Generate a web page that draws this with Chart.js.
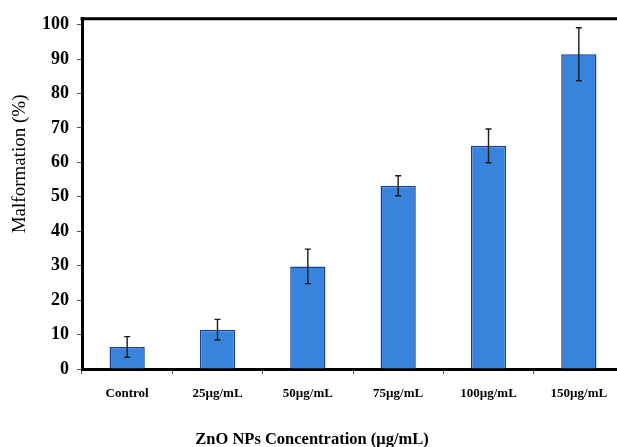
<!DOCTYPE html>
<html>
<head>
<meta charset="utf-8">
<script src="https://cdn.jsdelivr.net/npm/chart.js@4"></script>
<style>
html,body{margin:0;padding:0;background:#fff;overflow:hidden;width:617px;height:447px;}
canvas{display:block;}
</style>
</head>
<body>
<canvas id="c" width="625" height="447" style="width:625px;height:447px"></canvas>
<script>
const categories = ["Control", "25µg/mL", "50µg/mL", "75µg/mL", "100µg/mL", "150µg/mL"];
const malformation = [6.4, 11.4, 29.8, 53.2, 64.8, 91.4];
const errors = [3.0, 3.0, 5.0, 2.9, 4.9, 7.7];
const yTicks = [0, 10, 20, 30, 40, 50, 60, 70, 80, 90, 100];
const yTitle = "Malformation (%)";
const xTitle = "ZnO NPs Concentration (μg/mL)";

const FONT = "'Liberation Serif', 'Times New Roman', serif";

const errorBars = {
  id: 'errorBars',
  afterDatasetsDraw(chart) {
    const ctx = chart.ctx;
    const meta = chart.getDatasetMeta(0);
    const ys = chart.scales.y;
    ctx.save();
    ctx.strokeStyle = '#1a1a1a';
    ctx.lineWidth = 1.4;
    meta.data.forEach((bar, i) => {
      const x = bar.x;
      const t = ys.getPixelForValue(malformation[i] + errors[i]);
      const b = ys.getPixelForValue(malformation[i] - errors[i]);
      ctx.beginPath();
      ctx.moveTo(x, t); ctx.lineTo(x, b);
      ctx.moveTo(x - 3, t); ctx.lineTo(x + 3, t);
      ctx.moveTo(x - 3, b); ctx.lineTo(x + 3, b);
      ctx.stroke();
    });
    ctx.restore();
  }
};

const frameAndTitle = {
  id: 'frameAndTitle',
  afterDraw(chart) {
    const a = chart.chartArea;
    const ctx = chart.ctx;
    ctx.save();
    ctx.strokeStyle = '#000';
    ctx.lineWidth = 3;
    ctx.beginPath();
    ctx.moveTo(a.left - 1.5, a.top);
    ctx.lineTo(a.right + 10, a.top);
    ctx.stroke();
    // y axis title
    ctx.translate(20, (a.top + a.bottom) / 2 - 30);
    ctx.rotate(-Math.PI / 2);
    ctx.fillStyle = '#000';
    ctx.font = "19px " + FONT;
    ctx.textAlign = 'center';
    ctx.textBaseline = 'middle';
    ctx.fillText(yTitle, 0, 0);
    ctx.restore();
  }
};

new Chart(document.getElementById('c'), {
  type: 'bar',
  data: {
    labels: categories,
    datasets: [{
      data: malformation,
      backgroundColor: '#3884dc',
      borderColor: '#1c3c96',
      borderWidth: 1.5,
      barPercentage: 0.39,
      categoryPercentage: 1.0
    }]
  },
  options: {
    responsive: false,
    animation: false,
    layout: { padding: { top: 14, left: 0, right: 1, bottom: 0 } },
    plugins: {
      legend: { display: false },
      tooltip: { enabled: false },
      title: {
        display: true,
        position: 'bottom',
        text: xTitle,
        color: '#000',
        font: { family: FONT, size: 16.5, weight: 'bold', lineHeight: 1.2 },
        padding: { top: 0, bottom: -3 }
      }
    },
    scales: {
      x: {
        z: 1,
        afterFit: s => { s.height = 61.2; },
        grid: { drawOnChartArea: false, drawTicks: true, tickLength: 5, tickColor: '#555', offset: true },
        border: { display: true, color: '#000', width: 3 },
        ticks: { color: '#000', font: { family: FONT, size: 13, weight: 'bold' }, padding: 12, maxRotation: 0, autoSkip: false }
      },
      y: {
        z: 1,
        min: 0,
        max: 101.7,
        afterFit: s => { s.width = 82; },
        afterBuildTicks: s => { s.ticks = yTicks.map(v => ({ value: v })); },
        grid: { drawOnChartArea: false, drawTicks: true, tickLength: 5, tickColor: '#555' },
        border: { display: true, color: '#000', width: 3 },
        ticks: { color: '#000', font: { family: FONT, size: 18, weight: 'bold' }, padding: 8 },
        title: { display: false }
      }
    }
  },
  plugins: [errorBars, frameAndTitle]
});
</script>
</body>
</html>
